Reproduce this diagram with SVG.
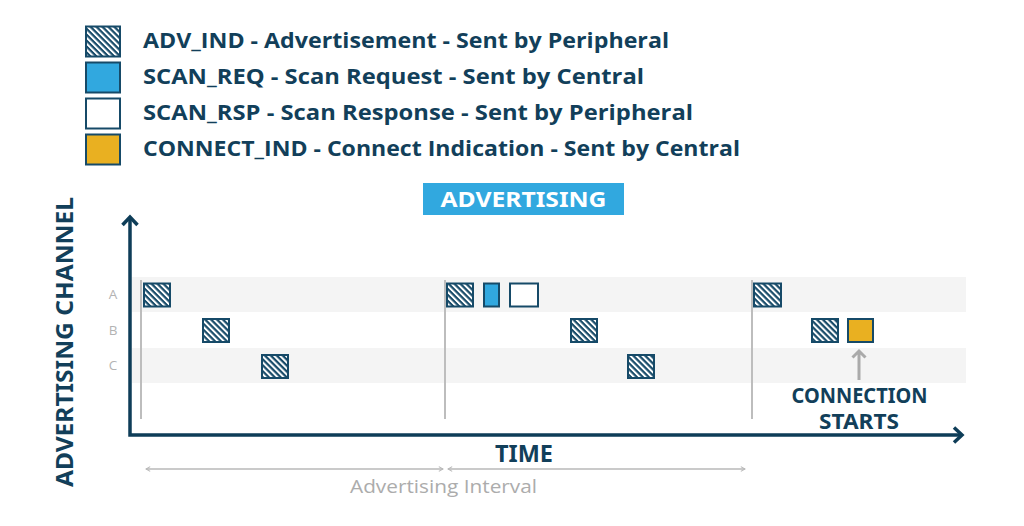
<svg xmlns="http://www.w3.org/2000/svg" width="1024" height="526" viewBox="0 0 1024 526">
<style>
.lg{font-family:"Open Sans","Noto Sans",sans-serif;font-weight:700;font-size:21px;fill:#123f5a}
.bd{font-family:"Noto Sans","Open Sans",sans-serif;font-weight:700;fill:#123f5a}
.ch{font-family:"Open Sans","Noto Sans",sans-serif;font-size:13.5px;fill:#b3b3b3;text-anchor:middle}
.bx{stroke:#164a68;stroke-width:2}
.hat{fill:url(#hatch)}
.band{fill:#f4f4f4}
.tick{stroke:#bdbdbd;stroke-width:2;fill:none}
.axis{stroke:#0e3d58;stroke-width:3.5;fill:none}
.thin{stroke:#b8b8b8;stroke-width:1.6;fill:none}
</style>
<defs>
<pattern id="hatch" patternUnits="userSpaceOnUse" width="4.2" height="4.2" patternTransform="rotate(-45)">
<rect x="0" y="0" width="4.2" height="4.2" fill="#164a68"/>
<rect x="0" y="0" width="2" height="4.2" fill="#ffffff"/>
</pattern>
<marker id="ah" viewBox="0 0 10 10" refX="9" refY="5" markerWidth="6" markerHeight="6" orient="auto-start-reverse" markerUnits="userSpaceOnUse">
<path d="M2,1 L9,5 L2,9" fill="none" stroke="#b8b8b8" stroke-width="1.8"/>
</marker>
</defs>
<rect width="1024" height="526" fill="#ffffff"/>

<g id="legend">
<g id="legend-adv">
<rect class="bx hat" x="86" y="26.5" width="34" height="30"/>
<text class="lg" x="143" y="48" textLength="526" lengthAdjust="spacingAndGlyphs">ADV_IND - Advertisement - Sent by Peripheral</text>
</g>
<g id="legend-req">
<rect class="bx" x="86" y="62.5" width="34" height="30" fill="#31a8df"/>
<text class="lg" x="143" y="84" textLength="501" lengthAdjust="spacingAndGlyphs">SCAN_REQ - Scan Request - Sent by Central</text>
</g>
<g id="legend-rsp">
<rect class="bx" x="86" y="98.5" width="34" height="30" fill="#ffffff"/>
<text class="lg" x="143" y="120" textLength="550" lengthAdjust="spacingAndGlyphs">SCAN_RSP - Scan Response - Sent by Peripheral</text>
</g>
<g id="legend-conn">
<rect class="bx" x="86" y="134.5" width="34" height="30" fill="#e9b021"/>
<text class="lg" x="143" y="156" textLength="597" lengthAdjust="spacingAndGlyphs">CONNECT_IND - Connect Indication - Sent by Central</text>
</g>
</g>

<g id="title">
<rect x="423" y="183" width="201" height="32" fill="#31a8df"/>
<text class="bd" x="523.5" y="207" font-size="22" style="fill:#ffffff" text-anchor="middle" textLength="166" lengthAdjust="spacingAndGlyphs">ADVERTISING</text>
</g>

<g id="bands">
<rect class="band" x="132" y="277" width="834" height="35"/>
<rect class="band" x="132" y="348" width="834" height="35"/>
</g>

<g id="channel-labels">
<text class="ch" x="113" y="299">A</text>
<text class="ch" x="113" y="335">B</text>
<text class="ch" x="113" y="370">C</text>
</g>

<g id="connectors">
<line class="tick" x1="141" y1="280" x2="141" y2="419"/>
<line class="tick" x1="445" y1="280" x2="445" y2="419"/>
<line class="tick" x1="752" y1="280" x2="752" y2="419"/>
<path class="axis" d="M130,217 L130,435 L962,435"/>
<path class="axis" d="M122.5,225 L130,217 L137.5,225"/>
<path class="axis" d="M954,427.5 L962,435 L954,442.5"/>
<line class="thin" x1="146" y1="469" x2="443" y2="469" marker-start="url(#ah)" marker-end="url(#ah)"/>
<line class="thin" x1="448" y1="469" x2="745" y2="469" marker-start="url(#ah)" marker-end="url(#ah)"/>
<path d="M859,380 L859,351 M852.5,357.5 L859,351 L865.5,357.5" fill="none" stroke="#aaaaaa" stroke-width="3"/>
</g>

<g id="interval-1">
<rect id="adv-a1" class="bx hat" x="144" y="283.5" width="26" height="23"/>
<rect id="adv-b1" class="bx hat" x="203" y="319" width="26" height="23"/>
<rect id="adv-c1" class="bx hat" x="262" y="355" width="26" height="23"/>
</g>
<g id="interval-2">
<rect id="adv-a2" class="bx hat" x="447" y="283.5" width="26" height="23"/>
<rect id="req-a2" class="bx" x="484" y="283.5" width="15" height="23" fill="#31a8df"/>
<rect id="rsp-a2" class="bx" x="510" y="283.5" width="28" height="23" fill="#ffffff"/>
<rect id="adv-b2" class="bx hat" x="571" y="319" width="26" height="23"/>
<rect id="adv-c2" class="bx hat" x="628" y="355" width="26" height="23"/>
</g>
<g id="interval-3">
<rect id="adv-a3" class="bx hat" x="754" y="283.5" width="27" height="23"/>
<rect id="adv-b3" class="bx hat" x="812" y="319" width="26" height="23"/>
<rect id="conn-b3" class="bx" x="848" y="319" width="25" height="23" fill="#e9b021"/>
</g>

<g id="labels">
<text class="bd" x="859.5" y="403" font-size="21" text-anchor="middle" textLength="136" lengthAdjust="spacingAndGlyphs">CONNECTION</text>
<text class="bd" x="859" y="429" font-size="21" text-anchor="middle" textLength="80" lengthAdjust="spacingAndGlyphs">STARTS</text>
<text class="bd" x="524" y="462" font-size="24" text-anchor="middle" textLength="58" lengthAdjust="spacingAndGlyphs">TIME</text>
<text x="443.5" y="493" font-family="Open Sans, Noto Sans, sans-serif" font-size="19" fill="#acacac" text-anchor="middle" textLength="187" lengthAdjust="spacingAndGlyphs">Advertising Interval</text>
<text class="bd" transform="translate(73,342) rotate(-90)" x="0" y="0" font-size="23" text-anchor="middle" textLength="290" lengthAdjust="spacingAndGlyphs">ADVERTISING CHANNEL</text>
</g>
</svg>
